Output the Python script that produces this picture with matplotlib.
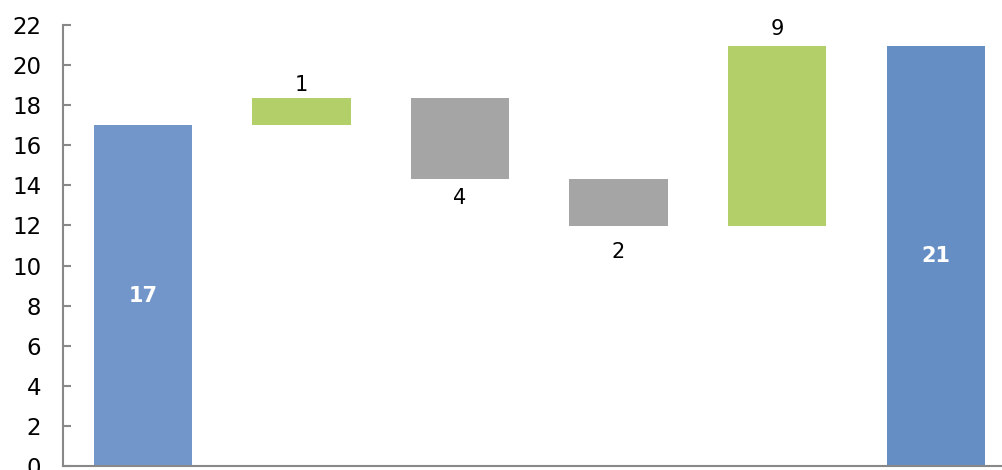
import matplotlib
matplotlib.use("Agg")
import matplotlib.pyplot as plt
import numpy as np

# Waterfall: opening total, four changes, closing total
steps = ["Start", "Change 1", "Change 2", "Change 3", "Change 4", "End"]
start_value = 17.0
changes = [1.35, -4.05, -2.35, 9.0]
end_value = 20.95

# Colours
start_color = "#7396CA"
end_color = "#658FC4"
up_color = "#B3CF69"
down_color = "#A5A5A5"

# Vertical distance (points) from each change bar's outer edge to its label centre
label_offsets = [9.5, 13.3, 18.1, 12.2]

fig = plt.figure(figsize=(10.03, 4.70), dpi=100)
ax = fig.add_axes([63.5 / 1003, 4 / 470, (1015 - 63.5) / 1003, (466 - 25) / 470])

x = np.arange(len(steps))
width = 0.62

# Floating bars for the changes
levels = np.concatenate([[start_value], start_value + np.cumsum(changes)])
bottoms = np.minimum(levels[:-1], levels[1:])
heights = np.abs(np.diff(levels))
colors = [up_color if c > 0 else down_color for c in changes]

ax.bar(x[0], start_value, width=width, color=start_color, zorder=2)
ax.bar(x[1:-1], heights, bottom=bottoms, width=width, color=colors, zorder=2)
ax.bar(x[-1], end_value, width=width, color=end_color, zorder=2)

# Labels for totals, centred in white bold
for xi, v in ((x[0], start_value), (x[-1], end_value)):
    ax.text(xi, v / 2, f"{v:.0f}", ha="center", va="center", color="white",
            fontsize=15, fontweight="bold")

# Labels for changes: above rising bars, below falling bars
for xi, c, b, h, off in zip(x[1:-1], changes, bottoms, heights, label_offsets):
    if c > 0:
        anchor, dy = b + h, off
    else:
        anchor, dy = b, -off
    ax.annotate(f"{abs(c):.0f}", (xi, anchor), xytext=(0, dy), textcoords="offset points",
                ha="center", va="center", fontsize=15, color="black")

ax.set_xlim(-0.5, len(steps) - 0.5)
ax.set_ylim(0, 22)
ax.set_yticks(np.arange(0, 23, 2))
ax.set_xticks([])

for side in ("top", "right"):
    ax.spines[side].set_visible(False)
for side in ("left", "bottom"):
    ax.spines[side].set_color("#888888")
    ax.spines[side].set_linewidth(1.5)

ax.tick_params(axis="y", direction="in", length=6, width=1.5, color="#888888",
               labelsize=16.5, pad=16)

fig.savefig("out.png", dpi=100)
